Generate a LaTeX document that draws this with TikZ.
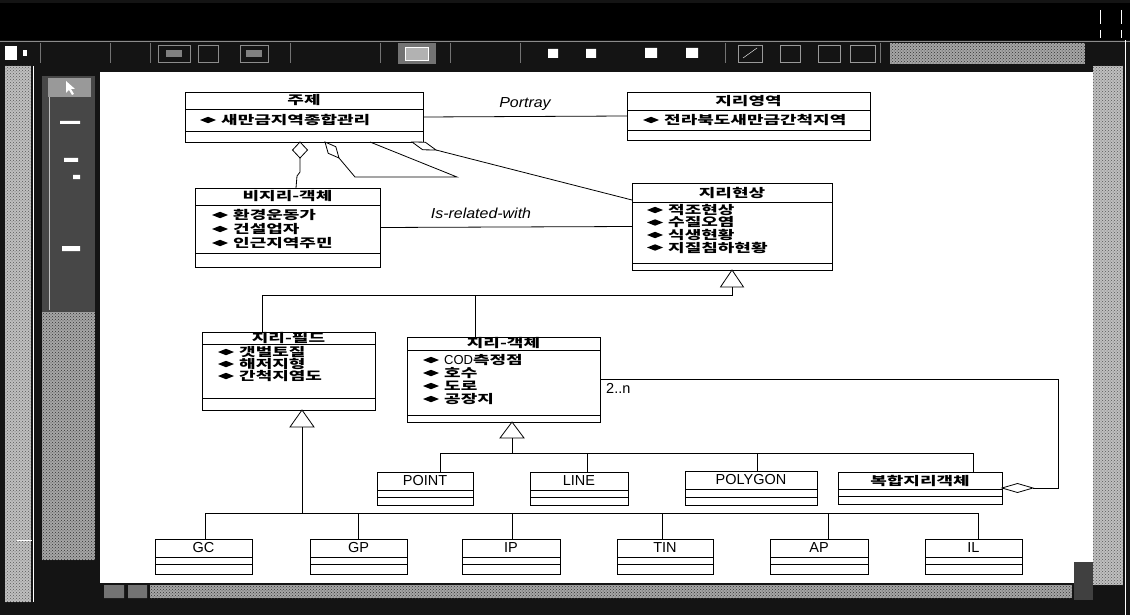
\documentclass[tikz,border=0pt]{standalone}
\usepackage{fontspec}
\setmainfont{Liberation Sans}
\newfontfamily\krf{Noto Sans CJK KR}[FakeStretch=1.5]
\newfontfamily\itf{Liberation Sans}[FakeStretch=1.1]
\usetikzlibrary{calc,patterns}
\newcommand\krfont{\krf\bfseries\fontsize{12}{12}\selectfont}
\newcommand\latfont{\fontsize{14.5}{14.5}\selectfont}
\newcommand\lblfont{\itf\itshape\fontsize{14.5}{14.5}\selectfont}
\newcommand\LT[1]{{\rmfamily\mdseries\latfont #1}}
\newcommand\clsbox[8]{%
  \node[clsbox, minimum width={#4-#2}, minimum height={#5-#3}, anchor=north west] (#1) at (#2,#3) {};
  \draw[boxline] (#2,#6) -- (#4,#6);
  \draw[boxline] (#2,#7) -- (#4,#7);
  \node[titletext] (#1-t) at ({(#2+#4)/2},{(#3+#6)/2}) {#8};
}
\newcommand\attrln[4]{%
  \fill (#2,#3) -- ({#2+8},{#3-3.2}) -- ({#2+16},#3) -- ({#2+8},{#3+3.2}) -- cycle;
  \node[attrtext, anchor=west] (#1) at ({#2+21},#3) {#4};
}
\begin{document}
\begin{tikzpicture}[x=1pt,y=-1pt,
  boxline/.style={line width=0.9pt},
  clsbox/.style={draw=black,line width=0.9pt,fill=white,inner sep=0pt,outer sep=0pt},
  titletext/.style={inner sep=0pt,font=\krfont},
  attrtext/.style={inner sep=0pt,font=\krfont},
  conn/.style={line width=0.8pt},
  hollow/.style={draw=black,fill=white,line width=0.8pt,line join=miter},
  lbl/.style={inner sep=0pt,font=\lblfont},
  numlbl/.style={inner sep=0pt,font=\latfont},
  hatch/.style={fill=black!35, postaction={pattern=crosshatch dots, pattern color=black!80}},
  hatchlight/.style={fill=black!25, postaction={pattern=crosshatch dots, pattern color=black!65}},
]
\useasboundingbox (0,0) rectangle (1130,615);
% ---------- window frame ----------
\fill[black!92] (0,0) rectangle (1130,615);
\fill[black] (0,3) rectangle (1130,40);
\draw[white, line width=0.6pt] (1100,10) -- (1100,24) (1121,10) -- (1121,24) (1100,30) -- (1100,38) (1121,30) -- (1121,38);
\draw[black!45] (0,41) -- (1130,41);
% toolbar
\fill[white] (5,46) rectangle (17,60);
\fill[white] (23,50) rectangle (27,56);
\foreach \x in {40,110,150,290,380,450,520,725,880} \draw[black!55] (\x,43) -- (\x,63);
\draw[black!45] (158,45) rectangle (190,62) (198,45) rectangle (218,62) (240,45) rectangle (268,62);
\fill[black!50] (166,50) rectangle (182,57);
\fill[black!50] (246,50) rectangle (262,57);
\fill[black!55] (398,43) rectangle (436,64);
\draw[white, fill=black!30] (405,47) rectangle (428,60);
\fill[white] (548,49) rectangle (558,58) (586,49) rectangle (596,58) (645,48) rectangle (657,58) (686,48) rectangle (698,58);
\draw[black!40] (738,45) rectangle (762,62) (780,45) rectangle (800,62) (818,45) rectangle (840,62) (850,45) rectangle (875,62);
\draw[white] (743,58) -- (757,48);
\fill[hatch] (890,43) rectangle (1085,64);
% left panel
\fill[hatchlight] (5,66) rectangle (31,602);
\draw[white] (33,66) -- (33,602);
\fill[black!72] (42,76) rectangle (95,312);
\fill[hatch] (42,312) rectangle (95,560);
\draw[black!25] (49,92) -- (49,310);
\fill[black!40] (48,78) rectangle (91,97);
\fill[white] (66,81) -- (66,93) -- (69,90) -- (72,95) -- (74,94) -- (71,89) -- (75,89) -- cycle;
\fill[white] (60,121) rectangle (80,124) (64,158) rectangle (78,162) (73,175) rectangle (80,179) (62,246) rectangle (80,251);
\draw[white] (17,540) -- (32,540);
% right scrollbar
\fill[hatchlight] (1093,66) rectangle (1123,585);
\draw[white] (1125,40) -- (1125,615);
% bottom scrollbar
\fill[hatch] (150,585) rectangle (1072,598);
\fill[black!55] (104,585) rectangle (124,598) (128,585) rectangle (147,598);
% canvas
\fill[white] (100,72) rectangle (1093,583);
\fill[black!75] (1074,562) rectangle (1093,600);
% ---------- classes ----------
\clsbox{zuje}{185}{92}{423}{142}{109}{131}{주제}
\attrln{zuje-a}{200}{120}{새만금지역종합관리}
\clsbox{jiriyeong}{627}{92}{870}{140}{110}{130}{지리영역}
\attrln{jiriyeong-a}{643}{120}{전라북도새만금간척지역}
\clsbox{bijiri}{195}{188}{380}{267}{205}{253}{비지리-객체}
\attrln{bijiri-a}{212}{215}{환경운동가}
\attrln{bijiri-b}{212}{229}{건설업자}
\attrln{bijiri-c}{212}{243}{인근지역주민}
\clsbox{jirihyeon}{632}{183}{832}{270}{202}{263}{지리현상}
\attrln{jirihyeon-a}{647}{210}{적조현상}
\attrln{jirihyeon-b}{647}{222.5}{수질오염}
\attrln{jirihyeon-c}{647}{235}{식생현황}
\attrln{jirihyeon-d}{647}{247.5}{지질침하현황}
\clsbox{jirifield}{202}{332}{375}{410}{344}{398}{지리-필드}
\attrln{jirifield-a}{218}{352}{갯벌토질}
\attrln{jirifield-b}{218}{364}{해저지형}
\attrln{jirifield-c}{218}{376}{간척지염도}
\clsbox{jiriobj}{407}{337}{600}{422}{350}{415}{지리-객체}
\attrln{jiriobj-a}{423}{360}{{\rmfamily\mdseries\fontsize{13}{13}\selectfont COD}측정점}
\attrln{jiriobj-b}{423}{373}{호수}
\attrln{jiriobj-c}{423}{386}{도로}
\attrln{jiriobj-d}{423}{399}{공장지}
\clsbox{point}{377}{472}{473}{505}{490}{497}{\LT{POINT}}
\clsbox{line}{530}{472}{628}{505}{490}{497}{\LT{LINE}}
\clsbox{polygon}{685}{471}{817}{505}{489}{497}{\LT{POLYGON}}
\clsbox{bokhap}{838}{472}{1002}{504}{489}{496}{복합지리객체}
\clsbox{gc}{155}{539}{252}{574}{557}{564}{\LT{GC}}
\clsbox{gp}{310}{539}{407}{574}{557}{564}{\LT{GP}}
\clsbox{ip}{462}{539}{560}{574}{557}{564}{\LT{IP}}
\clsbox{tin}{617}{539}{713}{574}{557}{564}{\LT{TIN}}
\clsbox{ap}{770}{539}{868}{574}{557}{564}{\LT{AP}}
\clsbox{il}{925}{539}{1022}{574}{557}{564}{\LT{IL}}
% ---------- associations ----------
\draw[conn] (zuje.east) -- (jiriyeong.west);
\node[lbl] (portray) at (525,104) {Portray};
\draw[conn] (bijiri.east) -- (jirihyeon.west);
\node[lbl] (isrel) at (481,213) {Is-related-with};
% aggregation zuje -> bijiri
\coordinate (d1t) at ($(zuje.south west)+(115,0)$);
\draw[hollow] (d1t) -- ++(7.5,8) -- ++(-7.5,8) coordinate (d1b) -- ++(-7.5,-8) -- cycle;
\coordinate (b1) at ($(bijiri.north west)+(101,0)$);
\draw[conn] (d1b) -- ++(0,14) -- ++(-3,4) -- (b1);
% self aggregation on zuje
\coordinate (d2t) at ($(zuje.south west)+(140,0)$);
\draw[hollow] (d2t) -- ++(10.8,4.7) -- ++(3.2,11.3) coordinate (d2b) -- ++(-10.8,-4.7) -- cycle;
\coordinate (l2e) at ($(zuje.south west)+(185,0)$);
\draw[conn] (d2b) -- (355,177) -- (457,177) -- (l2e);
% aggregation zuje -> jirihyeon
\coordinate (d3t) at ($(zuje.south west)+(227,0)$);
\draw[hollow] (d3t) -- ++(13.3,0.2) -- ++(10.7,7.8) coordinate (d3b) -- ++(-13.3,-0.2) -- cycle;
\coordinate (h3) at ($(jirihyeon.north west)+(0,17)$);
\draw[conn] (d3b) -- (h3);
% generalization to jirihyeon
\coordinate (t1) at (jirihyeon.south);
\draw[hollow] (t1) -- ++(11.5,17) -- ++(-23,0) -- cycle;
\coordinate (g1) at ($(t1)+(0,25)$);
\coordinate (f1) at ($(jirifield.north west)+(60,0)$);
\coordinate (o1) at ($(jiriobj.north west)+(68,0)$);
\draw[conn] ($(t1)+(0,17)$) -- (g1) -| (f1);
\draw[conn] (o1) -- (o1 |- g1);
% generalization to jirifield
\coordinate (t2) at ($(jirifield.south west)+(100,0)$);
\draw[hollow] (t2) -- ++(12,17) -- ++(-24,0) -- cycle;
\coordinate (g2) at ($(t2)+(0,103)$);
\draw[conn] ($(t2)+(0,17)$) -- (g2);
\coordinate (gcT) at ($(gc.north west)+(50,0)$);
\coordinate (gpT) at ($(gp.north west)+(48,0)$);
\coordinate (ipT) at ($(ip.north west)+(50,0)$);
\coordinate (tinT) at ($(tin.north west)+(45,0)$);
\coordinate (apT) at ($(ap.north west)+(58,0)$);
\coordinate (ilT) at ($(il.north west)+(53,0)$);
\draw[conn] (gcT |- g2) -- (ilT |- g2);
\foreach \c in {gcT,gpT,ipT,tinT,apT,ilT} \draw[conn] (\c) -- (\c |- g2);
% generalization to jiriobj
\coordinate (t3) at ($(jiriobj.south west)+(105,0)$);
\draw[hollow] (t3) -- ++(12,16) -- ++(-24,0) -- cycle;
\coordinate (g3) at ($(t3)+(0,31)$);
\draw[conn] ($(t3)+(0,16)$) -- (g3);
\coordinate (pointT) at ($(point.north west)+(63,0)$);
\coordinate (lineT) at ($(line.north west)+(57,0)$);
\coordinate (polyT) at ($(polygon.north west)+(72,0)$);
\coordinate (bokT) at ($(bokhap.north west)+(135,0)$);
\draw[conn] (pointT |- g3) -- (bokT |- g3);
\foreach \c in {pointT,lineT,polyT,bokT} \draw[conn] (\c) -- (\c |- g3);
% aggregation bokhap -> jiriobj
\coordinate (d4t) at (bokhap.east);
\draw[hollow] (d4t) -- ++(15.5,-4.5) -- ++(15.5,4.5) coordinate (d4b) -- ++(-15.5,4.5) -- cycle;
\coordinate (c4) at ($(jiriobj.east)+(458,0)$);
\draw[conn] (d4b) -| (c4) -- (jiriobj.east);
\node[numlbl, anchor=north west] (mult) at ($(jiriobj.east)+(6,4)$) {2..n};
\end{tikzpicture}
\end{document}
